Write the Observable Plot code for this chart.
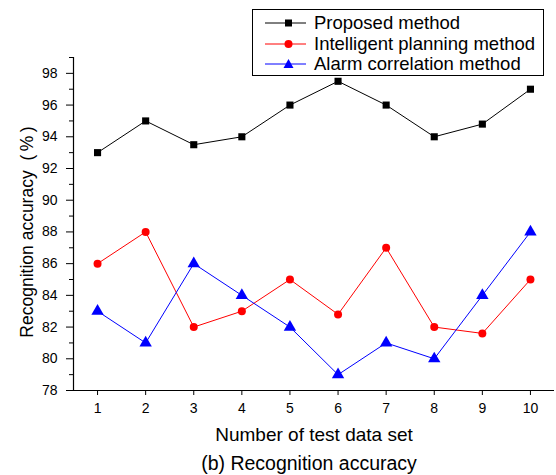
<!DOCTYPE html>
<html><head><meta charset="utf-8">
<script src="https://cdn.jsdelivr.net/npm/d3@7"></script>
<script src="https://cdn.jsdelivr.net/npm/@observablehq/plot@0.6"></script>
<style>
body{margin:0;background:#fff;}
#wrap{position:relative;width:556px;height:475px;font-family:"Liberation Sans",Arial,sans-serif;}
#legend{position:absolute;left:252px;top:9px;width:292px;height:67px;border:1px solid #000;background:#fff;box-sizing:border-box;}
.row{position:absolute;left:0;height:20px;display:flex;align-items:center;font-size:18.5px;color:#000;white-space:nowrap;}
.row svg{margin-left:12px;margin-right:8px;}
</style>
</head><body>
<div id="wrap"></div>
<script>
const testSets = [1,2,3,4,5,6,7,8,9,10];
const proposed = [93, 95, 93.5, 94, 96, 97.5, 96, 94, 94.8, 97];
const intelligent = [86, 88, 82, 83, 85, 82.8, 87, 82, 81.6, 85];
const alarm = [83, 81, 86, 84, 82, 79, 81, 80, 84, 88];
const seriesNames = ["Proposed method","Intelligent planning method","Alarm correlation method"];
const seriesColors = ["#000000","#ff0000","#0000ff"];
const seriesSymbols = ["square","circle","triangle"];
const seriesR = [4, 4, 4.6];
const majorTicks = [78,80,82,84,86,88,90,92,94,96,98];
const minorTicks = [79,81,83,85,87,89,91,93,95,97,99];

const allSeries = [proposed, intelligent, alarm];
const data = allSeries.flatMap((vals, s) => vals.map((v, i) => ({x: testSets[i], y: v, s})));

const marks = [];
allSeries.forEach((vals, s) => {
  const d = data.filter(o => o.s === s);
  marks.push(Plot.line(d, {x:"x", y:"y", stroke: seriesColors[s], strokeWidth: 1}));
  marks.push(Plot.dot(d, {x:"x", y:"y", fill: seriesColors[s], stroke: "none", symbol: seriesSymbols[s], r: seriesR[s]}));
});

const chart = Plot.plot({
  width: 556, height: 475,
  marginLeft: 73, marginRight: 2, marginTop: 57, marginBottom: 85,
  style: {fontFamily: "'Liberation Sans', Arial, sans-serif", fontSize: "14px", background: "#fff", color: "#000"},
  x: {domain: [0.5, 10.5]},
  y: {domain: [78, 99]},
  marks: [
    Plot.axisX({ticks: testSets, tickSize: 5, tickPadding: 8, label: null, fontSize: 14, tickFormat: d => String(d)}),
    Plot.axisY({ticks: majorTicks, tickSize: 7, tickPadding: 9, label: null, fontSize: 14}),
    Plot.axisY({ticks: minorTicks, tickSize: 4, text: null, label: null}),
    Plot.ruleX([0.5], {stroke: "#000", strokeWidth: 1.2}),
    Plot.ruleY([78], {stroke: "#000", strokeWidth: 1.2}),
    ...marks,
    Plot.text(["Number of test data set"], {frameAnchor: "bottom", dy: 50, fontSize: 19, text: d => d}),
    Plot.text(["(b) Recognition accuracy"], {frameAnchor: "bottom", dy: 79, dx: -5, fontSize: 19.5, text: d => d}),
    Plot.text(["Recognition accuracy\u00a0 (\u2009%\u2009)"], {frameAnchor: "left", textAnchor: "middle", lineAnchor: "middle", rotate: -90, dx: -46, dy: 8, fontSize: 17.5, text: d => d})
  ]
});

const wrap = document.getElementById("wrap");
wrap.appendChild(chart);

const legend = document.createElement("div");
legend.id = "legend";
const rowTops = [3, 24, 44];
seriesNames.forEach((name, s) => {
  const row = document.createElement("div");
  row.className = "row";
  row.style.top = rowTops[s] + "px";
  let sym = "";
  if (s === 0) sym = '<rect x="20" y="6.5" width="7" height="7" fill="#000"/>';
  if (s === 1) sym = '<circle cx="23.5" cy="10" r="4" fill="#ff0000"/>';
  if (s === 2) sym = '<path d="M23.5,5 L28.5,14 L18.5,14 Z" fill="#0000ff"/>';
  row.innerHTML = '<svg width="41" height="20"><line x1="0" x2="41" y1="10" y2="10" stroke="' + seriesColors[s] + '" stroke-width="1"/>' + sym + '</svg><span>' + name + '</span>';
  legend.appendChild(row);
});
wrap.appendChild(legend);
</script>
</body></html>
